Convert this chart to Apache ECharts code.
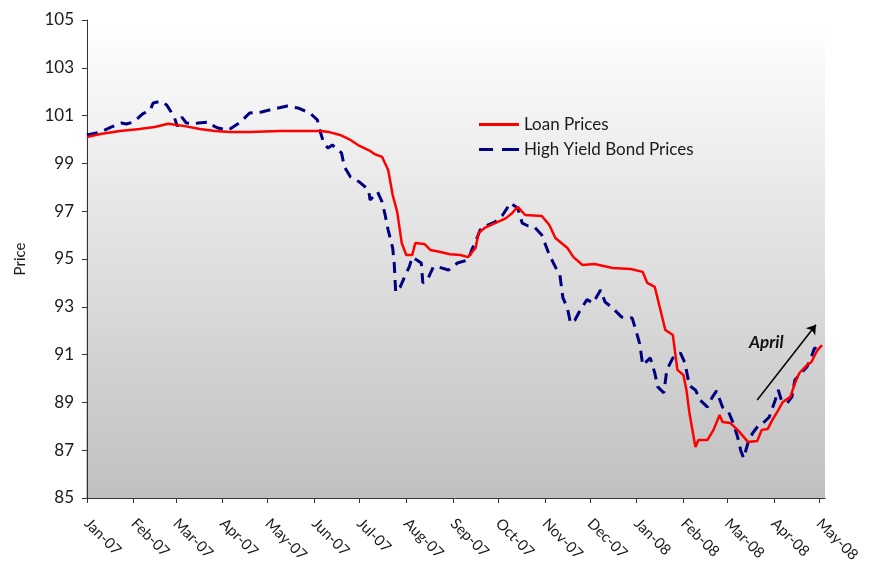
<!DOCTYPE html>
<html>
<head>
<meta charset="utf-8">
<script src="https://cdn.jsdelivr.net/npm/echarts@6/dist/echarts.min.js"></script>
<style>
html,body{margin:0;padding:0;background:#fff;}
#chart{width:876px;height:572px;}
</style>
</head>
<body>
<div id="chart"></div>
<script>
// ---- data ----
var tickDates = ['2007-01-01','2007-02-01','2007-03-01','2007-04-01','2007-05-01','2007-06-01','2007-07-01','2007-08-01','2007-09-01','2007-10-01','2007-11-01','2007-12-01','2008-01-01','2008-02-01','2008-03-01','2008-04-01','2008-05-01'];
var tickLabels = ['Jan-07','Feb-07','Mar-07','Apr-07','May-07','Jun-07','Jul-07','Aug-07','Sep-07','Oct-07','Nov-07','Dec-07','Jan-08','Feb-08','Mar-08','Apr-08','May-08'];
var yTicks = [85,87,89,91,93,95,97,99,101,103,105];

var loanDates = ['2007-01-01','2007-01-10','2007-01-23','2007-02-05','2007-02-15','2007-02-24','2007-03-07','2007-03-17','2007-03-27','2007-04-06','2007-04-19','2007-05-09','2007-06-05','2007-06-11','2007-06-18','2007-06-25','2007-07-01','2007-07-08','2007-07-11','2007-07-16','2007-07-20','2007-07-23','2007-07-26','2007-07-29','2007-08-01','2007-08-05','2007-08-07','2007-08-13','2007-08-17','2007-08-23','2007-08-30','2007-09-06','2007-09-11','2007-09-16','2007-09-18','2007-09-22','2007-09-29','2007-10-06','2007-10-10','2007-10-14','2007-10-19','2007-10-30','2007-11-04','2007-11-08','2007-11-16','2007-11-20','2007-11-26','2007-12-04','2007-12-16','2007-12-28','2008-01-05','2008-01-08','2008-01-13','2008-01-20','2008-01-25','2008-01-28','2008-02-01','2008-02-03','2008-02-05','2008-02-09','2008-02-11','2008-02-17','2008-02-21','2008-02-25','2008-02-27','2008-03-03','2008-03-08','2008-03-15','2008-03-21','2008-03-24','2008-03-28','2008-03-31','2008-04-04','2008-04-07','2008-04-12','2008-04-15','2008-04-18','2008-04-23','2008-04-26','2008-04-30','2008-05-03'];
var loanValues = [100.1,100.23,100.36,100.44,100.52,100.66,100.56,100.44,100.36,100.31,100.31,100.36,100.36,100.31,100.19,99.98,99.73,99.52,99.39,99.27,98.72,97.68,96.97,95.67,95.17,95.17,95.67,95.63,95.38,95.3,95.2,95.17,95.08,95.46,96.09,96.3,96.5,96.7,96.9,97.18,96.84,96.8,96.42,95.88,95.46,95.08,94.75,94.79,94.62,94.58,94.46,94.0,93.83,92.03,91.82,90.36,90.15,89.52,88.56,87.13,87.43,87.43,87.85,88.47,88.18,88.14,87.85,87.34,87.38,87.85,87.89,88.26,88.68,89.02,89.23,89.8,90.23,90.56,90.69,91.19,91.4];

var hyDates = ['2007-01-01','2007-01-10','2007-01-17','2007-01-24','2007-01-27','2007-02-01','2007-02-07','2007-02-12','2007-02-14','2007-02-19','2007-02-23','2007-02-28','2007-03-02','2007-03-05','2007-03-08','2007-03-13','2007-03-16','2007-03-23','2007-03-25','2007-03-29','2007-04-05','2007-04-13','2007-04-19','2007-04-27','2007-05-05','2007-05-14','2007-05-21','2007-05-29','2007-06-03','2007-06-05','2007-06-07','2007-06-10','2007-06-13','2007-06-19','2007-06-21','2007-06-25','2007-07-01','2007-07-07','2007-07-08','2007-07-13','2007-07-16','2007-07-18','2007-07-20','2007-07-23','2007-07-24','2007-07-25','2007-07-28','2007-08-01','2007-08-03','2007-08-05','2007-08-08','2007-08-11','2007-08-12','2007-08-15','2007-08-19','2007-08-22','2007-08-29','2007-09-04','2007-09-11','2007-09-14','2007-09-17','2007-09-19','2007-09-24','2007-09-29','2007-10-04','2007-10-07','2007-10-09','2007-10-14','2007-10-17','2007-10-21','2007-10-25','2007-10-30','2007-11-01','2007-11-04','2007-11-08','2007-11-11','2007-11-13','2007-11-16','2007-11-18','2007-11-21','2007-11-24','2007-11-29','2007-12-03','2007-12-08','2007-12-11','2007-12-16','2007-12-22','2007-12-29','2008-01-01','2008-01-03','2008-01-05','2008-01-10','2008-01-13','2008-01-15','2008-01-19','2008-01-21','2008-01-25','2008-01-30','2008-02-02','2008-02-05','2008-02-09','2008-02-12','2008-02-17','2008-02-20','2008-02-23','2008-02-27','2008-03-02','2008-03-05','2008-03-08','2008-03-10','2008-03-12','2008-03-15','2008-03-18','2008-03-22','2008-03-25','2008-03-29','2008-04-02','2008-04-04','2008-04-06','2008-04-10','2008-04-13','2008-04-15','2008-04-18','2008-04-23','2008-04-26','2008-04-28','2008-05-03'];
var hyValues = [100.19,100.31,100.52,100.69,100.65,100.73,101.07,101.23,101.53,101.6,101.44,100.94,100.55,100.94,100.69,100.65,100.69,100.73,100.6,100.48,100.4,100.73,101.11,101.15,101.28,101.4,101.32,101.11,100.82,100.31,99.9,99.64,99.77,99.44,98.85,98.43,98.22,97.89,97.47,97.8,97.38,96.84,96.21,95.46,94.83,93.62,93.83,94.41,94.67,95.08,94.96,94.83,94.0,94.12,94.67,94.67,94.54,94.83,94.96,95.46,95.88,96.21,96.42,96.55,96.84,97.13,97.34,97.13,96.5,96.38,96.34,96.0,95.67,95.17,94.67,94.33,93.37,92.95,92.32,92.45,92.8,93.3,93.16,93.7,93.2,92.95,92.57,92.53,91.9,91.45,90.56,90.86,90.23,89.65,89.4,90.36,90.86,91.07,90.65,89.7,89.52,89.1,88.8,89.2,89.48,88.8,88.6,88.14,87.55,87.0,86.67,87.34,87.72,88.05,88.14,88.39,89.1,89.52,89.1,88.98,89.23,89.94,90.15,90.48,90.9,91.28,91.11];

var annotationText = 'April';
var annotationAt = ['2008-03-27', 91.5];
var arrowFrom = ['2008-03-21', 89.1];
var arrowTo = ['2008-04-29', 92.25];

// ---- helpers ----
var base = Date.UTC(2007,0,1);
function dayOf(s){ var p = s.split('-'); return (Date.UTC(+p[0], +p[1]-1, +p[2]) - base)/86400000; }
function pairs(ds, vs){ return ds.map(function(d,i){ return [dayOf(d), vs[i]]; }); }
var tickDays = tickDates.map(dayOf);

var FONT = 'Lato, "Open Sans", sans-serif';
var chart = echarts.init(document.getElementById('chart'));
chart.setOption({
  animation: false,
  grid: {
    left: 86, right: 51, top: 20, bottom: 74, show: true, borderWidth: 0,
    backgroundColor: {type:'linear', x:0, y:0, x2:0, y2:1, colorStops:[{offset:0,color:'#ffffff'},{offset:1,color:'#c0c0c0'}]}
  },
  legend: {
    orient: 'vertical', left: 474, top: 111, itemWidth: 40, itemHeight: 3, itemGap: 8,
    textStyle: {fontFamily: FONT, fontSize: 17, color: '#1a1a1a'},
    data: [
      {name: 'Loan Prices', icon: 'path://M0,0 h40 v3 h-40 z', itemStyle: {color: '#ff0000'}},
      {name: 'High Yield Bond Prices', icon: 'path://M0,0 h14 v3 h-14 z M23,0 h17 v3 h-17 z', itemStyle: {color: '#000080'}}
    ]
  },
  xAxis: {
    type: 'value', min: -0.6, max: 490,
    splitLine: {show: false},
    axisLine: {lineStyle: {color: '#333', width: 1}},
    axisTick: {show: true, length: 5, customValues: tickDays, lineStyle: {color: '#333'}},
    axisLabel: {
      customValues: tickDays, rotate: -45, margin: 23,
      fontFamily: FONT, fontSize: 15, color: '#1a1a1a',
      formatter: function(v){ var i = tickDays.indexOf(Math.round(v)); return i >= 0 ? tickLabels[i] : ''; }
    }
  },
  yAxis: {
    type: 'value', min: yTicks[0], max: yTicks[yTicks.length-1], interval: 2,
    name: 'Price', nameLocation: 'middle', nameGap: 58,
    nameTextStyle: {fontFamily: FONT, fontSize: 15, color: '#1a1a1a'},
    splitLine: {show: false},
    axisLine: {show: true, lineStyle: {color: '#333', width: 1}},
    axisTick: {show: true, length: 5, lineStyle: {color: '#333'}},
    axisLabel: {fontFamily: FONT, fontSize: 17, color: '#1a1a1a', margin: 12}
  },
  series: [
    {
      name: 'Loan Prices', type: 'line', data: pairs(loanDates, loanValues),
      symbol: 'none', smooth: false, z: 3,
      lineStyle: {color: '#ff0000', width: 2.5}, itemStyle: {color: '#ff0000'},
      markLine: {
        silent: true, symbol: ['none','arrow'], symbolSize: 9,
        label: {show: false},
        lineStyle: {color: '#000', width: 1.5, type: 'solid'},
        data: [[{coord: [dayOf(arrowFrom[0]), arrowFrom[1]]}, {coord: [dayOf(arrowTo[0]), arrowTo[1]]}]]
      },
      markPoint: {
        silent: true, symbol: 'rect', symbolSize: 1, itemStyle: {color: 'rgba(0,0,0,0)'},
        label: {show: true, position: 'inside', formatter: annotationText, fontFamily: FONT, fontSize: 17, fontStyle: 'italic', fontWeight: 'bold', color: '#111'},
        data: [{coord: [dayOf(annotationAt[0]), annotationAt[1]]}]
      }
    },
    {
      name: 'High Yield Bond Prices', type: 'line', data: pairs(hyDates, hyValues),
      symbol: 'none', smooth: false, z: 2,
      lineStyle: {color: '#000080', width: 3, type: [11,7]}, itemStyle: {color: '#000080'}
    }
  ]
});
</script>
</body>
</html>
